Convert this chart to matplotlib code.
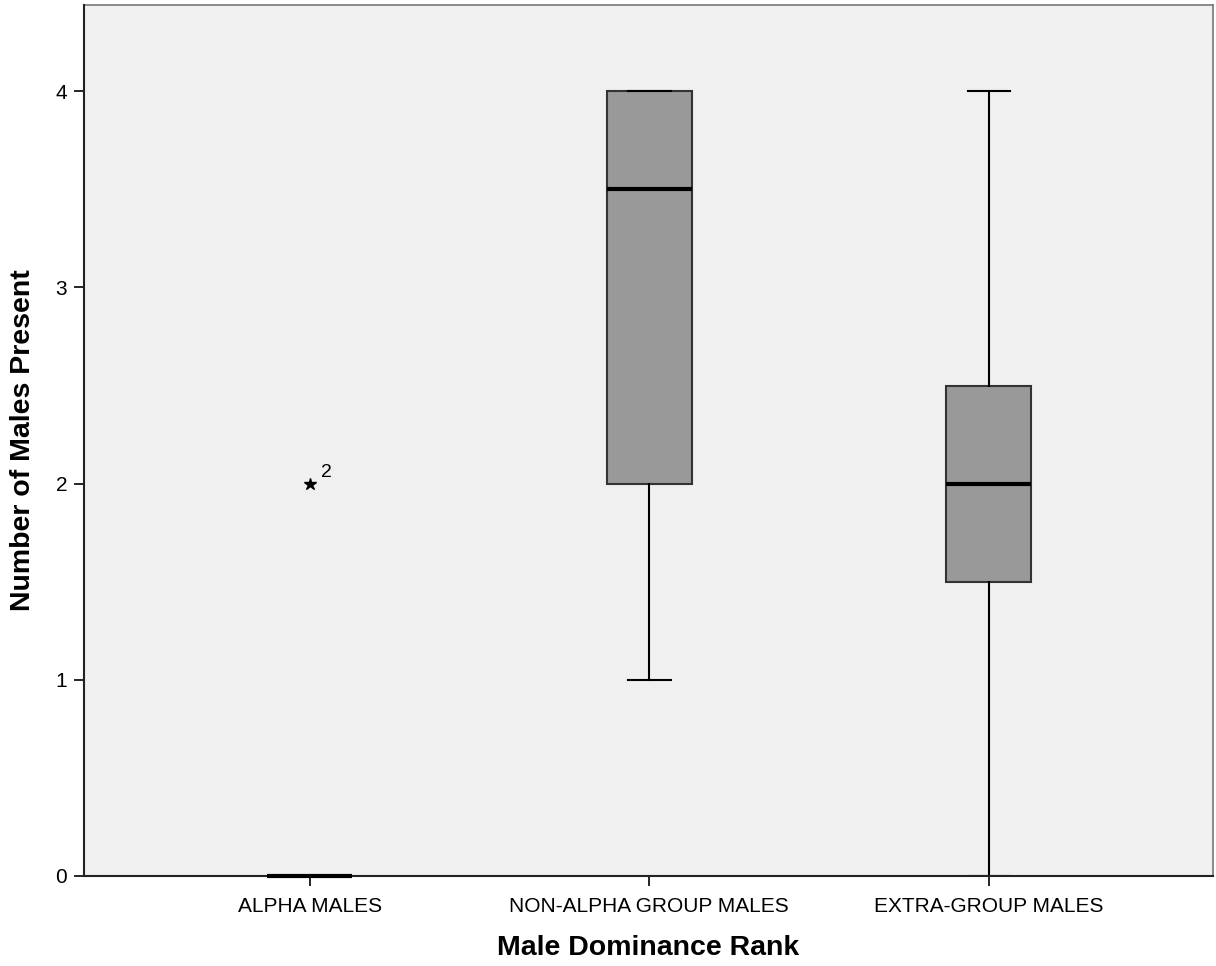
import matplotlib
matplotlib.use('Agg')
import matplotlib.pyplot as plt

plt.rcParams['font.family'] = ['Liberation Sans', 'DejaVu Sans']

# Box summaries
groups = ['ALPHA MALES', 'NON-ALPHA GROUP MALES', 'EXTRA-GROUP MALES']
whisker_low = [0, 1, 0]
q1 = [0, 2, 1.5]
medians = [0, 3.5, 2]
q3 = [0, 4, 2.5]
whisker_high = [0, 4, 4]
outliers = [[2], [], []]
outlier_ids = [['2'], [], []]

stats = []
for i, name in enumerate(groups):
    stats.append({'label': name, 'whislo': whisker_low[i], 'q1': q1[i], 'med': medians[i],
                  'q3': q3[i], 'whishi': whisker_high[i], 'fliers': []})

fig = plt.figure(figsize=(12.16, 9.66), dpi=100)
ax = fig.add_axes([0.0691, 0.0932, 0.9284, 0.9016])
ax.set_facecolor('#f0f0f0')

positions = [1, 2, 3]
parts = ax.bxp(stats, positions=positions, widths=0.25, patch_artist=True, showfliers=False,
               boxprops=dict(facecolor='#999999', edgecolor='#333333', linewidth=1.5),
               medianprops=dict(color='black', linewidth=3),
               whiskerprops=dict(color='black', linewidth=1.5),
               capprops=dict(color='black', linewidth=1.5),
               capwidths=0.125)
for line in parts['medians']:
    line.set_clip_on(False)
    line.set_zorder(5)

# Extreme value marked with a star and its case number
for pos, vals, ids in zip(positions, outliers, outlier_ids):
    for v, lab in zip(vals, ids):
        ax.plot(pos, v, marker='*', color='black', markersize=9, linestyle='none')
        ax.annotate(lab, (pos, v), xytext=(8, 5), textcoords='offset points', fontsize=14)

ax.set_xlim(0.335, 3.66)
ax.set_ylim(0, 4.44)
ax.set_yticks([0, 1, 2, 3, 4])
ax.set_xticks(positions)
ax.set_xticklabels(groups)
ax.tick_params(axis='y', labelsize=15, length=7, width=1.2, pad=5)
ax.tick_params(axis='x', labelsize=15, length=7, width=1.2, pad=8)

for side in ['left', 'bottom']:
    ax.spines[side].set_linewidth(1.5)
    ax.spines[side].set_color('#222222')
    ax.spines[side].set_zorder(4)
for side in ['top', 'right']:
    ax.spines[side].set_linewidth(1.2)
    ax.spines[side].set_color('#777777')

ax.set_xlabel('Male Dominance Rank', fontsize=20.5, fontweight='bold', labelpad=14)
ax.set_ylabel('Number of Males Present', fontsize=20.5, fontweight='bold', labelpad=14)

fig.savefig('out.png', dpi=100)
